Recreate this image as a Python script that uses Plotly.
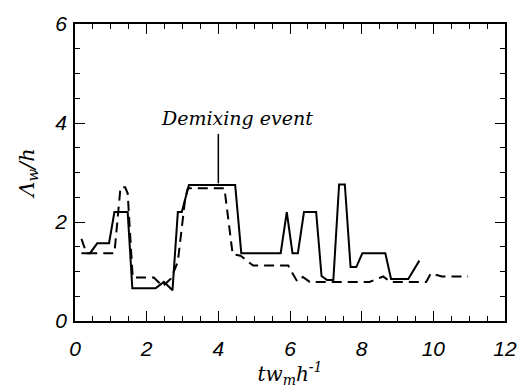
import plotly.graph_objects as go

# Solid curve (time, Lambda_w/h)
solid_t = [0.18, 0.42, 0.62, 0.95, 1.10, 1.47, 1.60, 2.25, 2.48, 2.72, 2.87, 2.98, 3.18, 4.47,
           4.64, 5.74, 5.91, 6.07, 6.22, 6.39, 6.73, 6.88, 7.03, 7.21, 7.37, 7.53, 7.69, 7.85,
           8.02, 8.66, 8.82, 9.30, 9.61]
solid_val = [1.37, 1.37, 1.57, 1.57, 2.20, 2.20, 0.66, 0.66, 0.79, 0.62, 2.20, 2.20, 2.75, 2.75,
             1.37, 1.37, 2.20, 1.37, 1.37, 2.20, 2.20, 0.91, 0.83, 0.83, 2.76, 2.76, 1.09, 1.09,
             1.37, 1.37, 0.85, 0.85, 1.22]

# Dashed curve
dashed_t = [0.18, 0.32, 1.10, 1.27, 1.40, 1.47, 1.61, 2.20, 2.45, 2.68, 2.87, 3.08, 3.15, 4.17,
            4.40, 4.62, 4.97, 5.95, 6.20, 6.36, 6.55, 8.22, 8.60, 8.80, 9.80, 9.93, 10.24, 10.97]
dashed_val = [1.66, 1.37, 1.37, 2.70, 2.70, 2.58, 0.88, 0.88, 0.70, 0.86, 1.20, 2.50, 2.68, 2.68,
              1.35, 1.32, 1.12, 1.12, 0.80, 0.89, 0.79, 0.79, 0.90, 0.79, 0.79, 0.96, 0.90, 0.90]

x_ticks = [0, 2, 4, 6, 8, 10, 12]
y_ticks = [0, 2, 4, 6]

event_t = 4.0
event_label = "Demixing event"

fig = go.Figure()
fig.add_trace(go.Scatter(x=solid_t, y=solid_val, mode="lines",
                         line=dict(color="black", width=2), showlegend=False))
fig.add_trace(go.Scatter(x=dashed_t, y=dashed_val, mode="lines",
                         line=dict(color="black", width=2, dash="10px,6px"), showlegend=False))

fig.add_shape(type="line", x0=event_t, x1=event_t, y0=2.78, y1=3.78,
              line=dict(color="black", width=1.5))
fig.add_annotation(x=4.52, y=4.1, text="<i>" + event_label + "</i>", showarrow=False,
                   font=dict(family="DejaVu Serif", size=19, color="black"))

axis_common = dict(showline=True, linecolor="black", linewidth=1.5, mirror="ticks",
                   ticks="inside", ticklen=10, tickwidth=1, tickcolor="black",
                   showgrid=False, zeroline=False,
                   tickfont=dict(family="Liberation Sans", size=21, color="black"))

fig.update_xaxes(range=[0, 12], tickvals=x_ticks, ticktext=["<i>%d</i>" % v for v in x_ticks],
                 minor=dict(dtick=0.5, tick0=0, ticks="inside", ticklen=5, tickcolor="black", showgrid=False),
                 ticklabelstandoff=8,
                 title=dict(text="<i>tw<sub>m</sub>h<sup>-1</sup></i>",
                            font=dict(family="DejaVu Serif", size=20, color="black"), standoff=2),
                 **axis_common)
fig.update_yaxes(range=[0, 6], tickvals=y_ticks, ticktext=["<i>%d</i>" % v for v in y_ticks],
                 minor=dict(dtick=0.5, tick0=0, ticks="inside", ticklen=5, tickcolor="black", showgrid=False),
                 ticklabelstandoff=2,
                 title=dict(text="<i>Λ<sub>w</sub>/h</i>",
                            font=dict(family="DejaVu Serif", size=21, color="black"), standoff=14),
                 **axis_common)

fig.update_layout(width=529, height=388, margin=dict(l=75, r=18, t=14, b=66),
                  plot_bgcolor="white", paper_bgcolor="white")

fig.write_html("out.html")
